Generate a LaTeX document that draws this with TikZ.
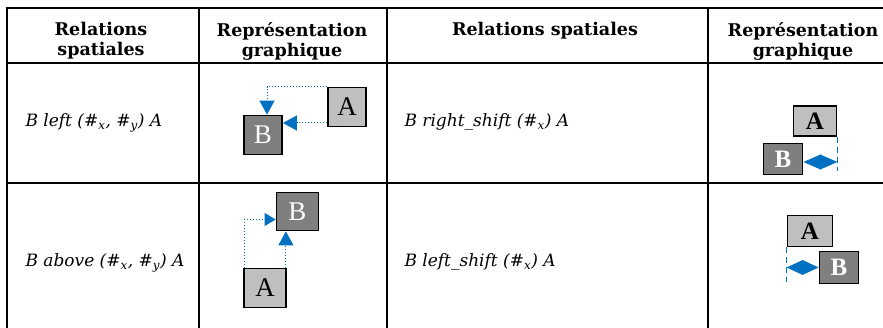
\documentclass[tikz,border=0pt]{standalone}
\usepackage{fontspec}
\setmainfont{DejaVu Serif}
\newfontfamily\boxfont{Liberation Serif}
\usetikzlibrary{arrows.meta}
\definecolor{linkblue}{HTML}{0070C0}
\definecolor{lightbox}{HTML}{BFBFBF}
\definecolor{darkbox}{HTML}{7F7F7F}
\begin{document}
\begin{tikzpicture}[x=1pt,y=-1pt,
    rule/.style={line width=2pt},
    head/.style={align=center,font=\fontsize{17.5}{20}\selectfont\bfseries},
    rel/.style={anchor=base west,font=\fontsize{17}{18}\selectfont\itshape},
    boxA/.style={draw=black,fill=lightbox,line width=1.8pt,inner sep=0pt,text=black,font=\boxfont\fontsize{27}{27}\selectfont},
    boxB/.style={boxA,fill=darkbox,text=white},
    dotlink/.style={linkblue,dotted,line width=1pt,-{Triangle[length=14pt,width=15pt]}},
    dashlink/.style={linkblue,dashed,line width=1.2pt,dash pattern=on 6pt off 4pt},
    shiftlink/.style={linkblue,line width=1pt,{Triangle[length=#1,width=15pt]}-{Triangle[length=#1,width=15pt]}}]
    \useasboundingbox (0,0) rectangle (883,328);
    \draw[rule] (7,8)--(883,8);
    \draw[rule] (7,63)--(883,63);
    \draw[rule] (7,183)--(883,183);
    \foreach \xc in {7,199,387,708}
        \draw[rule] (\xc,7)--(\xc,328);
    \node[head] (h1) at (101,41) {Relations\\spatiales};
    \node[head] (h2) at (292,41) {Représentation\\graphique};
    \node[head] (h3) at (545,31) {Relations spatiales};
    \node[head] (h4) at (803,41) {Représentation\\graphique};
    \node[rel] (r1) at (22,127) {B left (\#\textsubscript{x}, \#\textsubscript{y}) A};
    \node[rel] (r2) at (22,267) {B above (\#\textsubscript{x}, \#\textsubscript{y}) A};
    \node[rel] (r3) at (401,127) {B right\_shift (\#\textsubscript{x}) A};
    \node[rel] (r4) at (401,267) {B left\_shift (\#\textsubscript{x}) A};
    \node[boxA,minimum width=38pt,minimum height=39pt] (a1) at (347,107) {A};
    \node[boxB,minimum width=38pt,minimum height=39pt] (b1) at (263,135) {B};
    \draw[dotlink] (a1.north west) -| ([xshift=4pt]b1.north);
    \draw[dotlink] ([yshift=-16pt]a1.west) coordinate (s1) -- (s1 -| b1.east);
    \node[boxB,minimum width=42pt,minimum height=38pt] (b2) at (297.5,211.5) {B};
    \node[boxA,minimum width=42pt,minimum height=39pt] (a2) at (265,288) {A};
    \draw[dotlink,-{Triangle[length=11pt,width=13pt]}] ([xshift=1pt]a2.north west) |- ([yshift=-8pt]b2.west);
    \draw[dotlink] ([xshift=-1pt]a2.north east) coordinate (s2) -- (s2 |- b2.south);
    \node[boxA,minimum width=43pt,minimum height=30pt,font=\boxfont\fontsize{25}{25}\selectfont\bfseries] (a3) at (815,121) {A};
    \node[boxB,minimum width=39pt,minimum height=31pt,font=\boxfont\fontsize{25}{25}\selectfont\bfseries] (b3) at (783,159) {B};
    \draw[dashlink] (a3.south east) -- ++(0,34) coordinate (d3);
    \draw[shiftlink=17.5pt] ([yshift=-3pt]b3.east) coordinate (s3) -- (s3 -| d3);
    \node[boxA,minimum width=45pt,minimum height=31pt,font=\boxfont\fontsize{25}{25}\selectfont\bfseries] (a4) at (810,231) {A};
    \node[boxB,minimum width=39pt,minimum height=32pt,font=\boxfont\fontsize{25}{25}\selectfont\bfseries] (b4) at (839,267.5) {B};
    \draw[dashlink] (a4.south west) -- ++(0,35) coordinate (d4);
    \draw[shiftlink=16.5pt] (b4.west) coordinate (s4) -- (s4 -| d4);
\end{tikzpicture}
\end{document}
